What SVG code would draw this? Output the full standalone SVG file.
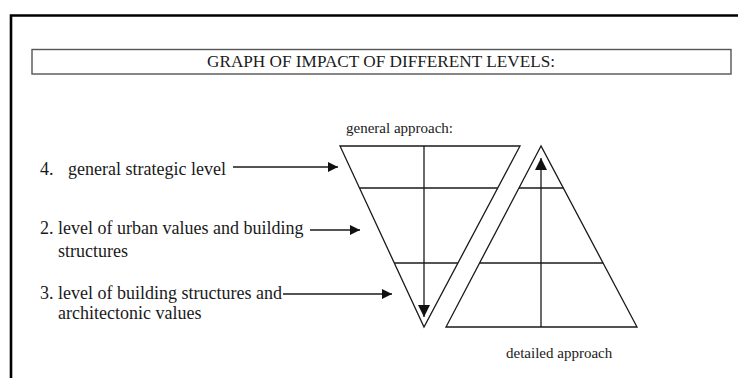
<svg xmlns="http://www.w3.org/2000/svg" width="738" height="378" viewBox="0 0 738 378">
<style>
.t{font-family:"Liberation Serif","Times New Roman",serif;fill:#1a1a1a}
.lb{font-size:18px}
.sm{font-size:15px}
.ln{stroke:#1a1a1a;stroke-width:1.3;fill:none}
.fr{stroke:#000;stroke-width:2.6;fill:none}
</style>
<defs>
<marker id="ah" viewBox="0 0 10 10" refX="10" refY="5" markerWidth="10" markerHeight="10" markerUnits="userSpaceOnUse" orient="auto">
<path d="M0,0 L10,5 L0,10 Z" fill="#111"/>
</marker>
<marker id="ahv" viewBox="0 0 12 12" refX="12" refY="6" markerWidth="12" markerHeight="12" markerUnits="userSpaceOnUse" orient="auto">
<path d="M0,0 L12,6 L0,12 Z" fill="#111"/>
</marker>
</defs>
<rect width="738" height="378" fill="#fff"/>
<g id="frame">
<path class="fr" d="M11,378 V15.5 H738"/>
</g>
<g id="title">
<rect x="32" y="49.5" width="699" height="24.5" fill="none" stroke="#555" stroke-width="1.4"/>
<text class="t" x="381" y="67" font-size="17" text-anchor="middle" textLength="348" lengthAdjust="spacingAndGlyphs">GRAPH OF IMPACT OF DIFFERENT LEVELS:</text>
</g>
<g id="label-4">
<text class="t lb" x="40" y="175">4.<tspan x="68">general strategic level</tspan></text>
</g>
<g id="label-2">
<text class="t lb" x="40" y="234">2. level of urban values and building</text>
<text class="t lb" x="58" y="257">structures</text>
</g>
<g id="label-3">
<text class="t lb" x="40" y="299">3. level of building structures and</text>
<text class="t lb" x="58" y="319">architectonic values</text>
</g>
<g id="general-approach">
<polygon class="ln" points="340,146 520,146 424,327"/>
<line class="ln" x1="359.5" y1="188" x2="497.7" y2="188"/>
<line class="ln" x1="394.3" y1="263" x2="457.9" y2="263"/>
<text class="t sm" x="346" y="133">general approach:</text>
</g>
<g id="detailed-approach">
<polygon class="ln" points="541,146 446,327 637,327"/>
<line class="ln" x1="519" y1="188" x2="563.3" y2="188"/>
<line class="ln" x1="479.6" y1="263" x2="603.1" y2="263"/>
<text class="t sm" x="506" y="358">detailed approach</text>
</g>
<g id="connectors">
<line class="ln" x1="233" y1="167" x2="338" y2="167" marker-end="url(#ah)"/>
<line class="ln" x1="310" y1="230" x2="360" y2="230" marker-end="url(#ah)"/>
<line class="ln" x1="283" y1="294" x2="392" y2="294" marker-end="url(#ah)"/>
<line class="ln" x1="424" y1="146" x2="424" y2="317" marker-end="url(#ahv)"/>
<line class="ln" x1="541" y1="327" x2="541" y2="158" marker-end="url(#ahv)"/>
</g>
</svg>
